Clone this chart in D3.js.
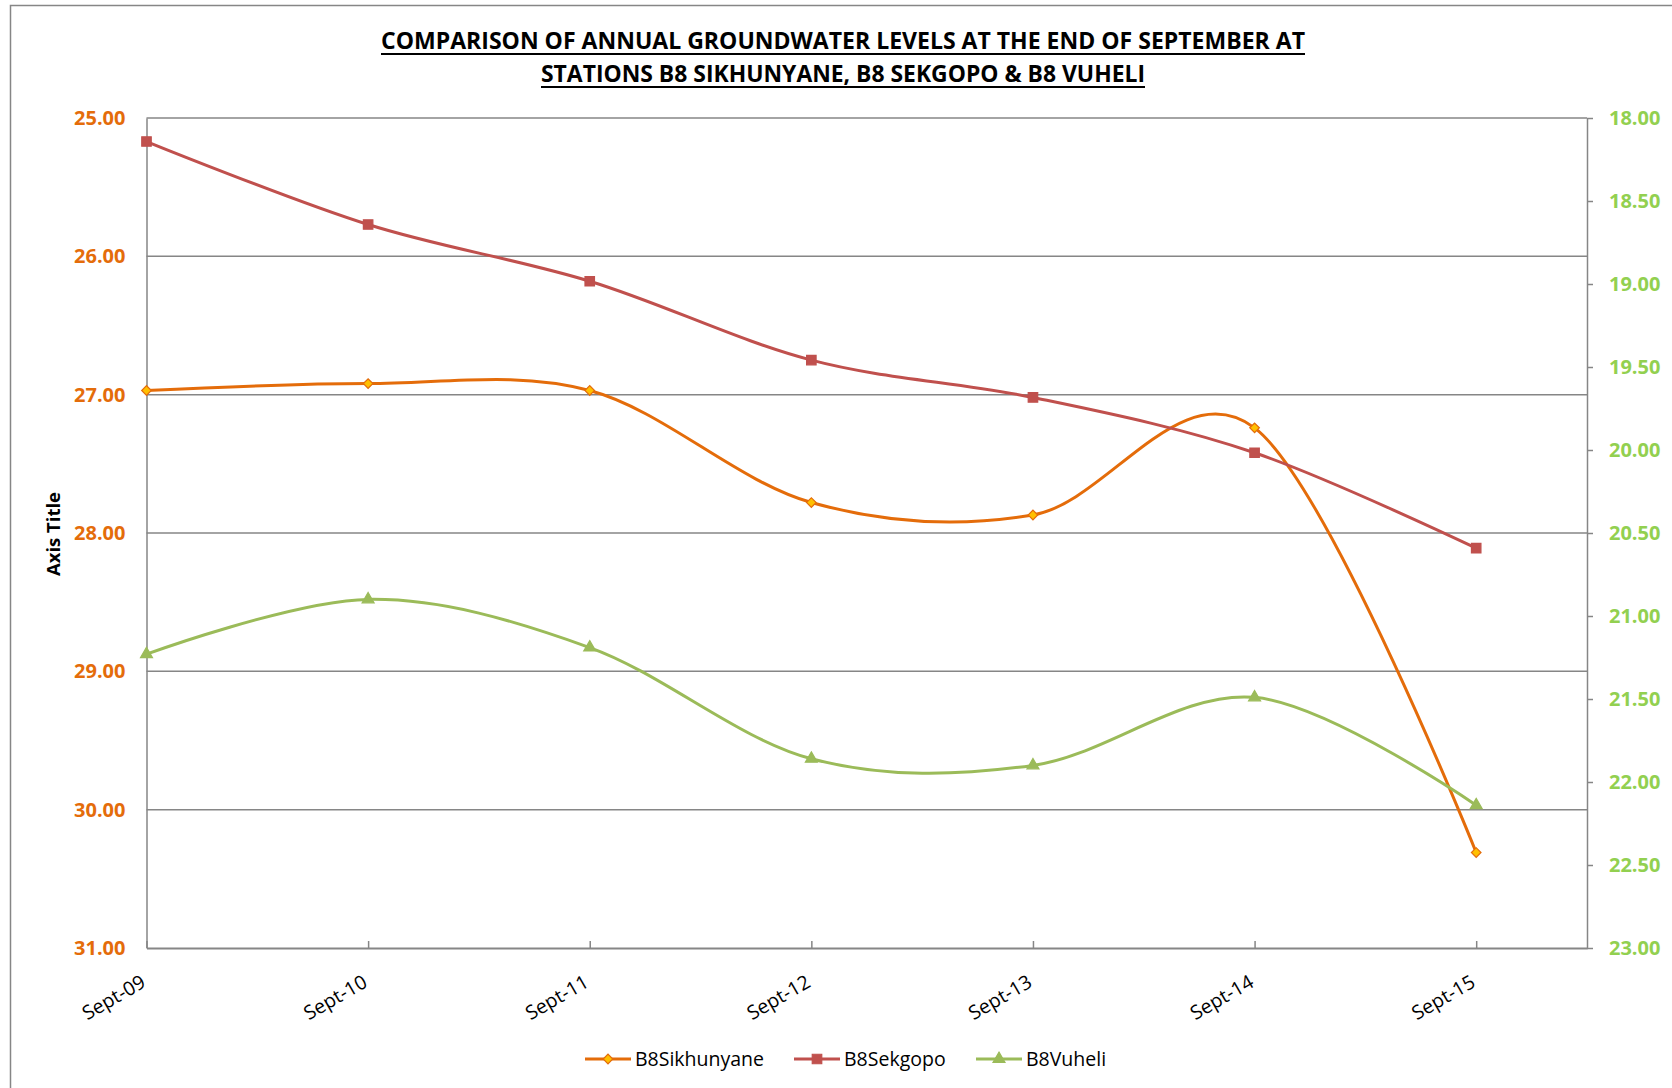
<!DOCTYPE html>
<html>
<head>
<meta charset="utf-8">
<script src="https://cdn.jsdelivr.net/npm/d3@7"></script>
<style>
  body { margin: 0; background: #fff; }
  text { font-family: "Open Sans", "Noto Sans", sans-serif; }
</style>
</head>
<body>
<div id="plot"></div>
<script>
// chart data
const categories = ["Sept-09", "Sept-10", "Sept-11", "Sept-12", "Sept-13", "Sept-14", "Sept-15"];
const sikhunyane = [26.97, 26.92, 26.97, 27.78, 27.87, 27.24, 30.31];
const sekgopo = [25.17, 25.77, 26.18, 26.75, 27.02, 27.42, 28.11];
const vuheli = [21.23, 20.90, 21.19, 21.86, 21.90, 21.49, 22.14];
const leftTicks = [25, 26, 27, 28, 29, 30, 31];
const rightTicks = [18, 18.5, 19, 19.5, 20, 20.5, 21, 21.5, 22, 22.5, 23];
const titleLines = [
  "COMPARISON OF ANNUAL GROUNDWATER LEVELS AT THE END OF SEPTEMBER AT",
  "STATIONS B8 SIKHUNYANE, B8 SEKGOPO & B8 VUHELI"
];

const w = 1672;
const h = 1088;
const margin = {top: 118, right: 85, bottom: 140, left: 146.5};
const gray = "#868686";

const svg = d3.select("div#plot")
  .append("svg")
  .attr("width", w)
  .attr("height", h);

svg.append("rect")
  .attr("width", w)
  .attr("height", h)
  .attr("fill", "white");

// chart area border (only left and top show in the picture)
svg.append("path")
  .attr("d", `M10.5,${h} V5.5 H${w}`)
  .attr("fill", "none")
  .attr("stroke", gray)
  .attr("stroke-width", 1.5);

const xScale = d3.scaleLinear()
  .domain([0, 6.5])
  .range([margin.left, w - margin.right]);

const yLeft = d3.scaleLinear()
  .domain([25, 31])
  .range([margin.top, h - margin.bottom]);

const yRight = d3.scaleLinear()
  .domain([18, 23])
  .range([margin.top, h - margin.bottom]);

// gridlines
svg.append("g")
  .selectAll("line")
  .data(leftTicks.slice(0, -1))
  .join("line")
  .attr("x1", xScale(0))
  .attr("x2", xScale(6.5))
  .attr("y1", d => yLeft(d))
  .attr("y2", d => yLeft(d))
  .attr("stroke", gray)
  .attr("stroke-width", 1.5);

// left axis
const leftAxis = svg.append("g")
  .attr("transform", `translate(${margin.left},0)`)
  .call(d3.axisLeft(yLeft).tickValues(leftTicks).tickFormat(d3.format(".2f"))
    .tickSize(0).tickPadding(21));
leftAxis.select(".domain").attr("stroke", gray).attr("stroke-width", 1.5);
leftAxis.selectAll("text")
  .attr("fill", "#E46C0A")
  .style("font-size", "20px")
  .style("font-weight", "bold");

// right axis
const rightAxis = svg.append("g")
  .attr("transform", `translate(${w - margin.right},0)`)
  .call(d3.axisRight(yRight).tickValues(rightTicks).tickFormat(d3.format(".2f"))
    .tickSizeInner(6).tickSizeOuter(0).tickPadding(16));
rightAxis.select(".domain").attr("stroke", gray).attr("stroke-width", 1.5);
rightAxis.selectAll(".tick line").attr("stroke", gray).attr("stroke-width", 1.5);
rightAxis.selectAll("text")
  .attr("fill", "#92D050")
  .style("font-size", "20px")
  .style("font-weight", "bold");

// bottom axis
const bottomAxis = svg.append("g")
  .attr("transform", `translate(0,${h - margin.bottom})`)
  .call(d3.axisBottom(xScale).tickValues(d3.range(categories.length))
    .tickFormat(i => categories[i]).tickSizeInner(-7).tickSizeOuter(0));
bottomAxis.select(".domain").attr("stroke", gray).attr("stroke-width", 2);
bottomAxis.selectAll(".tick line").attr("stroke", gray).attr("stroke-width", 1.5);
bottomAxis.selectAll("text")
  .attr("y", 0)
  .attr("dy", 0)
  .attr("text-anchor", "end")
  .attr("transform", "translate(0,38) rotate(-30)")
  .attr("fill", "black")
  .style("font-size", "19.5px");

// axis title
svg.append("text")
  .attr("transform", "translate(60,534) rotate(-90)")
  .attr("text-anchor", "middle")
  .style("font-size", "18.5px")
  .style("font-weight", "bold")
  .text("Axis Title");

// series
const series = [
  {name: "B8Sikhunyane", values: sikhunyane, y: yLeft, color: "#E46C0A",
   fill: "#FFC000", symbol: d3.symbolSquare, size: 46, rotate: 45},
  {name: "B8Sekgopo", values: sekgopo, y: yLeft, color: "#C0504D",
   fill: "#C0504D", symbol: d3.symbolSquare, size: 90, rotate: 0},
  {name: "B8Vuheli", values: vuheli, y: yRight, color: "#9BBB59",
   fill: "#9BBB59", symbol: d3.symbolTriangle, size: 62, rotate: 0}
];

series.forEach(s => {
  const line = d3.line()
    .x((d, i) => xScale(i))
    .y(d => s.y(d))
    .curve(d3.curveCardinal.tension(0));

  svg.append("path")
    .datum(s.values)
    .attr("d", line)
    .attr("fill", "none")
    .attr("stroke", s.color)
    .attr("stroke-width", 3);

  svg.append("g")
    .selectAll("path")
    .data(s.values)
    .join("path")
    .attr("d", d3.symbol(s.symbol, s.size))
    .attr("transform", (d, i) => `translate(${xScale(i)},${s.y(d)}) rotate(${s.rotate})`)
    .attr("fill", s.fill)
    .attr("stroke", s.color)
    .attr("stroke-width", 1.2);
});

// title, squeezed to the widths of the original
const titleSpec = [
  {x: 843, y: 49, width: 924},
  {x: 843, y: 82, width: 604}
];
titleLines.forEach((t, i) => {
  const spec = titleSpec[i];
  svg.append("text")
    .attr("x", spec.x)
    .attr("y", spec.y)
    .attr("text-anchor", "middle")
    .attr("textLength", spec.width)
    .attr("lengthAdjust", "spacingAndGlyphs")
    .style("font-size", "22.5px")
    .style("font-weight", "bold")
    .text(t);
  svg.append("line")
    .attr("x1", spec.x - spec.width / 2)
    .attr("x2", spec.x + spec.width / 2)
    .attr("y1", spec.y + 5)
    .attr("y2", spec.y + 5)
    .attr("stroke", "black")
    .attr("stroke-width", 2);
});

// legend
const legendX = [585, 794, 976];
const legend = svg.append("g")
  .attr("transform", "translate(0,1059)");
series.forEach((s, i) => {
  const g = legend.append("g").attr("transform", `translate(${legendX[i]},0)`);
  g.append("line")
    .attr("x1", 0).attr("x2", 46)
    .attr("stroke", s.color)
    .attr("stroke-width", 3);
  g.append("path")
    .attr("d", d3.symbol(s.symbol, s.size))
    .attr("transform", `translate(23,0) rotate(${s.rotate})`)
    .attr("fill", s.fill)
    .attr("stroke", s.color)
    .attr("stroke-width", 1.2);
  g.append("text")
    .attr("x", 50)
    .attr("dy", "0.35em")
    .style("font-size", "19.5px")
    .text(s.name);
});
</script>
</body>
</html>
